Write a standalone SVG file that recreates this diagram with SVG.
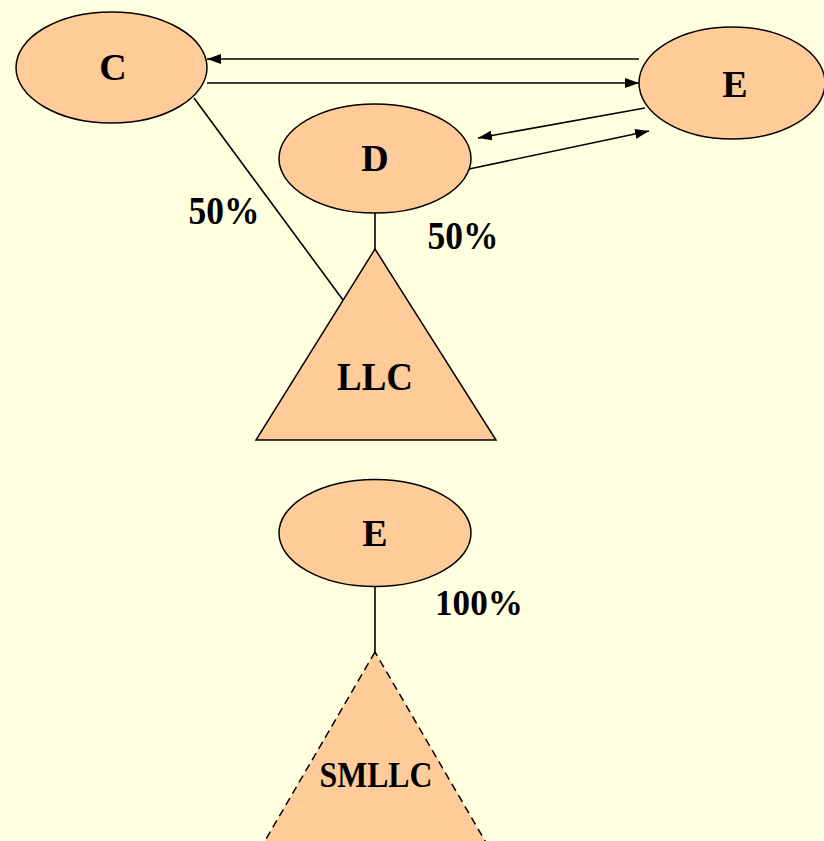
<svg xmlns="http://www.w3.org/2000/svg" width="824" height="841" viewBox="0 0 824 841">
  <style>
    .node { fill: #FFCC99; stroke: #000; stroke-width: 1.5; }
    .dashed { stroke-dasharray: 8 5; }
    .link { stroke: #000; stroke-width: 1.6; fill: none; }
    .lbl { font-family: "Liberation Serif", "Times New Roman", serif; font-weight: bold; fill: #000; text-anchor: middle; }
  </style>
  <defs>
    <marker id="arrow" viewBox="0 0 14 10" refX="14" refY="5" markerWidth="14" markerHeight="10" markerUnits="userSpaceOnUse" orient="auto">
      <path d="M0,0 L14,5 L0,10 z" fill="#000"/>
    </marker>
  </defs>
  <rect width="824" height="841" fill="#FFFFE0"/>

  <g id="connectors">
    <line class="link" x1="639" y1="59" x2="207" y2="59" marker-end="url(#arrow)"/>
    <line class="link" x1="207" y1="83" x2="639" y2="83" marker-end="url(#arrow)"/>
    <line class="link" x1="645" y1="108" x2="478" y2="138" marker-end="url(#arrow)"/>
    <line class="link" x1="469" y1="169" x2="649" y2="131" marker-end="url(#arrow)"/>
    <line class="link" x1="194" y1="98" x2="343" y2="300"/>
    <line class="link" x1="375" y1="212" x2="375" y2="250"/>
    <line class="link" x1="375" y1="586" x2="375" y2="652"/>
  </g>

  <g id="node-c">
    <ellipse class="node" cx="111.5" cy="67.5" rx="95.5" ry="55.5"/>
    <text class="lbl" x="113" y="80" font-size="38">C</text>
  </g>
  <g id="node-e-top">
    <ellipse class="node" cx="732" cy="83" rx="93" ry="56"/>
    <text class="lbl" x="735" y="97" font-size="38">E</text>
  </g>
  <g id="node-d">
    <ellipse class="node" cx="375" cy="158.5" rx="96" ry="54.5"/>
    <text class="lbl" x="375" y="171" font-size="38">D</text>
  </g>
  <g id="node-llc">
    <polygon class="node" points="375,249 256,440 496,440"/>
    <text class="lbl" x="375" y="390" font-size="39" textLength="76" lengthAdjust="spacingAndGlyphs">LLC</text>
  </g>
  <g id="node-e-bottom">
    <ellipse class="node" cx="375" cy="533" rx="96" ry="53.5"/>
    <text class="lbl" x="375" y="546" font-size="38">E</text>
  </g>
  <g id="node-smllc">
    <polygon class="node dashed" points="375,652 248,870 502,870"/>
    <text class="lbl" x="376" y="787" font-size="35" textLength="113" lengthAdjust="spacingAndGlyphs">SMLLC</text>
  </g>

  <g id="labels">
    <text class="lbl" x="224" y="224" font-size="39" textLength="71" lengthAdjust="spacingAndGlyphs">50%</text>
    <text class="lbl" x="463" y="249" font-size="39" textLength="71" lengthAdjust="spacingAndGlyphs">50%</text>
    <text class="lbl" x="479" y="615" font-size="36" textLength="88" lengthAdjust="spacingAndGlyphs">100%</text>
  </g>
</svg>
